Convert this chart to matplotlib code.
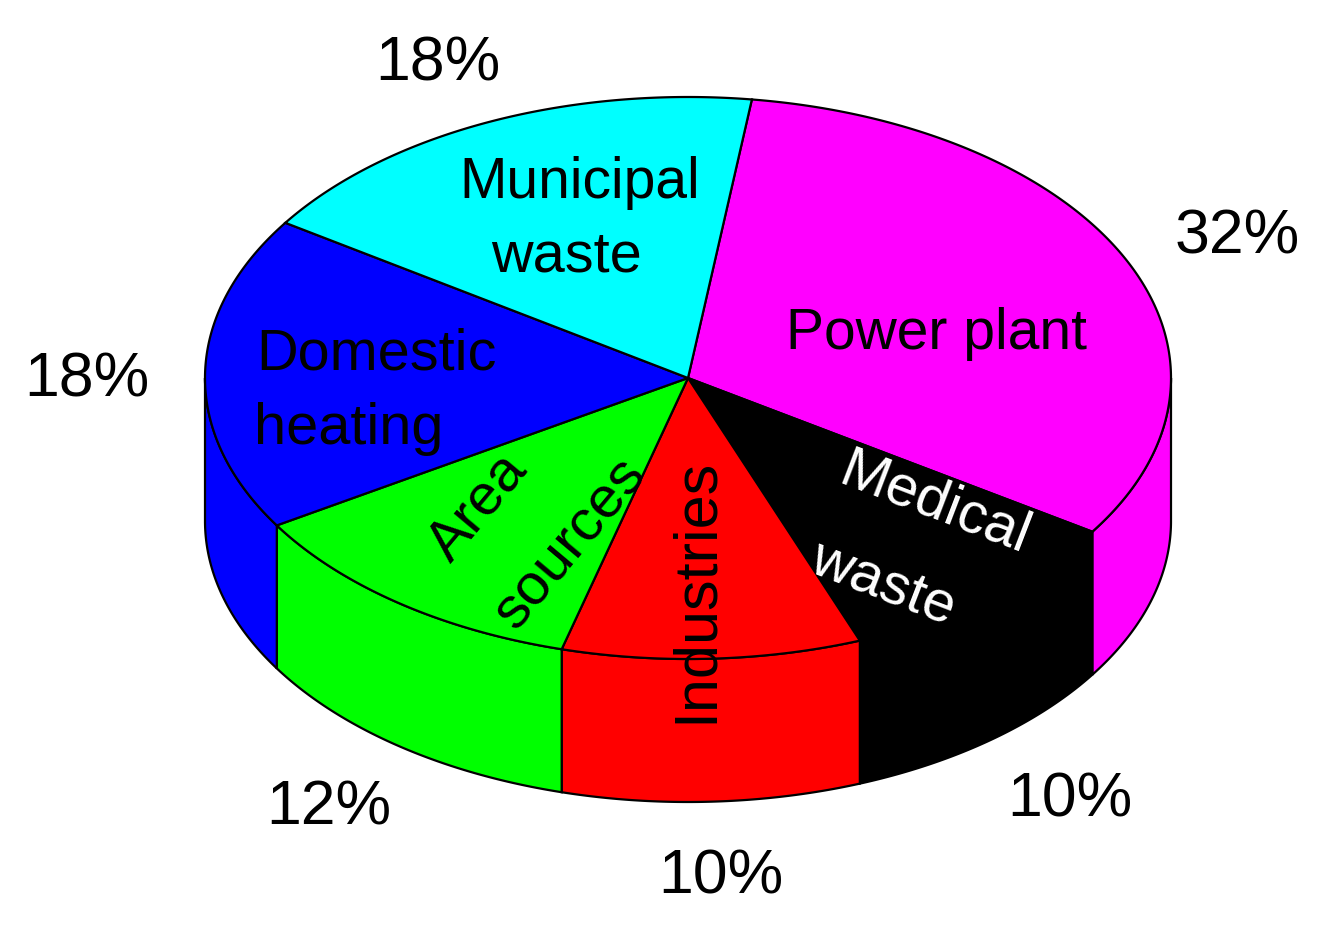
import numpy as np
import matplotlib
matplotlib.use("Agg")
import matplotlib.pyplot as plt

shares = [32.1, 10.0, 10.0, 12.0, 18.1, 17.8]
percent_labels = ["32%", "10%", "10%", "12%", "18%", "18%"]
colors = ["#ff00ff", "#000000", "#ff0000", "#00ff00", "#0000ff", "#00ffff"]

W, H = 1319, 927
CX, CY, RX, RY, DEPTH = 688, 378, 483, 281, 143
START = 82.4

plt.rcParams['font.family'] = ['Liberation Sans', 'DejaVu Sans']
fig = plt.figure(figsize=(W / 100, H / 100), dpi=100, facecolor="white")
ax = fig.add_axes([0, 0, 1, 1])
ax.set_xlim(0, W)
ax.set_ylim(H, 0)
ax.axis("off")


def rim(a0, a1, dy=0, n=200):
    t = np.radians(np.linspace(a0, a1, n))
    return CX + RX * np.cos(t), CY - RY * np.sin(t) + dy


edges = START - np.cumsum([0] + shares) * 3.6
LW = 1.6
for a0, a1, c in zip(edges[:-1], edges[1:], colors):
    # side wall: only the part of the slice on the near half of the rim
    lo, hi = max(a1, -180), min(a0, 0)
    if lo < hi:
        x, y = rim(hi, lo)
        xb, yb = rim(lo, hi, DEPTH)
        ax.fill(np.r_[x, xb], np.r_[y, yb], facecolor=c, edgecolor="black", lw=LW, zorder=2)
    # top face
    x, y = rim(a0, a1)
    ax.fill(np.r_[CX, x], np.r_[CY, y], facecolor=c, edgecolor="black", lw=LW, zorder=3)

pct_pos = [(1237, 237), (1070, 800), (721, 877), (329, 808), (87, 380), (438, 64)]
for lab, (px, py) in zip(percent_labels, pct_pos):
    ax.text(px, py, lab, fontsize=45, ha="center", va="center", color="black", zorder=5)

names = [
    ("Municipal", 580, 183, 0, "black", 41),
    ("waste", 566, 257, 0, "black", 41.5),
    ("Power plant", 937, 334, 0, "black", 41),
    ("Domestic", 376, 354, 0, "black", 41.5),
    ("heating", 349, 429, 0, "black", 41.5),
    ("Medical", 935, 504, -21, "white", 41.5),
    ("waste", 883, 584, -21, "white", 41.5),
    ("Area", 478, 507, 50, "black", 41.5),
    ("sources", 570, 544, 50, "black", 42),
    ("Industries", 696, 590, 90, "black", 44),
]
for s, px, py, rot, col, fs in names:
    ax.text(px, py, s, fontsize=fs, ha="center", va="center", rotation=rot,
            rotation_mode="anchor", color=col, zorder=5)

fig.savefig("out.png", dpi=100, facecolor="white")
